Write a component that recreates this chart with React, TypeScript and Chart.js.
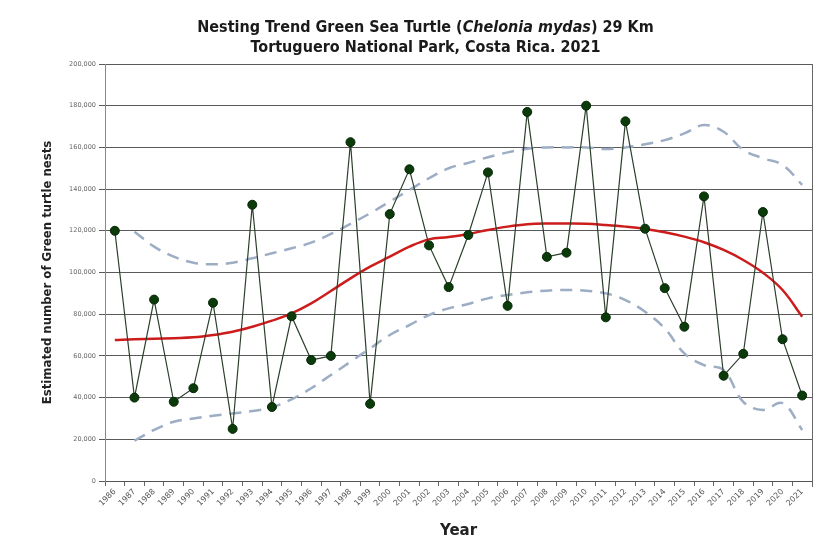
import { useEffect, useRef } from "react";
import { Chart, registerables } from "chart.js";

Chart.register(...registerables);

const years = [
  "1986", "1987", "1988", "1989", "1990", "1991", "1992", "1993", "1994",
  "1995", "1996", "1997", "1998", "1999", "2000", "2001", "2002", "2003",
  "2004", "2005", "2006", "2007", "2008", "2009", "2010", "2011", "2012",
  "2013", "2014", "2015", "2016", "2017", "2018", "2019", "2020", "2021",
];

const nests = [
  120000, 40000, 87000, 38000, 44500, 85500, 25000, 132500, 35500,
  79000, 58000, 60000, 162500, 37000, 128000, 149500, 113000, 93000,
  118000, 148000, 84000, 177000, 107500, 109500, 180000, 78500, 172500,
  121000, 92500, 74000, 136500, 50500, 61000, 129000, 68000, 41000,
];

const trend = [
  67600, 68000, 68200, 68500, 68900, 70000, 71600, 74000, 76900,
  80400, 85200, 91100, 97200, 102800, 107600, 112400, 115900, 117000,
  118500, 120400, 122000, 123100, 123500, 123500, 123400, 122800, 122000,
  120900, 119300, 117200, 114500, 110800, 106000, 99900, 91600, 78800,
];

const upperBand = [
  null, 119600, 112400, 107600, 104700, 103900, 104700, 106800, 109200,
  111600, 114300, 118500, 123300, 128400, 134000, 139600, 145200, 150000,
  152600, 155300, 157600, 159400, 160000, 160000, 160000, 159200, 160000,
  161500, 163500, 166700, 170700, 167500, 158800, 154800, 151600, 142000,
];

const lowerBand = [
  null, 19300, 24500, 28400, 30000, 31300, 32400, 33600, 35300,
  39200, 44500, 50800, 57200, 63600, 70000, 74800, 79600, 82800,
  84900, 87600, 89200, 90500, 91300, 91600, 91300, 90000, 86800,
  81200, 73200, 61200, 55600, 53200, 38000, 34100, 37300, 24500,
];

const yTickValues = [0, 20000, 40000, 60000, 80000, 100000, 120000, 140000, 160000, 180000, 200000];

const frameRight = {
  id: "frameRight",
  afterDatasetsDraw(chart: any) {
    const { ctx, chartArea } = chart;
    ctx.save();
    ctx.strokeStyle = "#666";
    ctx.lineWidth = 1;
    ctx.beginPath();
    ctx.moveTo(chartArea.right + 0.5, chartArea.top);
    ctx.lineTo(chartArea.right + 0.5, chartArea.bottom + 6);
    ctx.stroke();
    ctx.restore();
  },
};

export default function App() {
  const canvasRef = useRef<HTMLCanvasElement | null>(null);

  useEffect(() => {
    if (!canvasRef.current) return;
    const chart = new Chart(canvasRef.current, {
      type: "line",
      data: {
        labels: years,
        datasets: [
          {
            label: "Nests",
            data: nests,
            borderColor: "#2c3f2c",
            borderWidth: 1.2,
            backgroundColor: "#0b3a0b",
            pointBackgroundColor: "#0b3a0b",
            pointBorderColor: "#062806",
            pointBorderWidth: 1,
            pointRadius: 4.5,
            tension: 0,
          },
          {
            label: "Trend",
            data: trend,
            borderColor: "#cc1c1c",
            borderWidth: 2.5,
            pointRadius: 0,
            tension: 0.4,
          },
          {
            label: "Upper",
            data: upperBand,
            borderColor: "#9cadc4",
            borderWidth: 2.5,
            borderDash: [12, 8],
            pointRadius: 0,
            tension: 0.4,
            spanGaps: true,
          },
          {
            label: "Lower",
            data: lowerBand,
            borderColor: "#9cadc4",
            borderWidth: 2.5,
            borderDash: [12, 8],
            pointRadius: 0,
            tension: 0.4,
            spanGaps: true,
          },
        ],
      },
      options: {
        animation: false,
        responsive: true,
        maintainAspectRatio: false,
        layout: { padding: { top: 64, right: 21, bottom: 0, left: 0 } },
        plugins: {
          legend: { display: false },
          tooltip: { enabled: false },
          title: { display: false },
        },
        scales: {
          x: {
            type: "category",
            offset: true,
            afterFit: (s: any) => {
              s.height = 71;
            },
            grid: {
              display: true,
              drawOnChartArea: false,
              offset: true,
              tickLength: 5,
              color: "#666",
            },
            border: { display: true, color: "#555", width: 1 },
            ticks: {
              autoSkip: false,
              minRotation: 45,
              maxRotation: 45,
              padding: 1,
              color: "#555",
              font: { family: "DejaVu Sans", size: 8 },
            },
            title: {
              display: true,
              text: "Year",
              color: "#222",
              font: { family: "DejaVu Sans", size: 15, weight: "bold" },
              padding: { top: 0, bottom: 12 },
            },
          },
          y: {
            min: 0,
            max: 200000,
            afterFit: (s: any) => {
              s.width = 105;
            },
            afterBuildTicks: (s: any) => {
              s.ticks = yTickValues.map((v) => ({ value: v }));
            },
            grid: {
              color: "#5a5a5a",
              lineWidth: 1,
              tickLength: 6,
            },
            border: { display: true, color: "#888", width: 1 },
            ticks: {
              padding: 3,
              color: "#666",
              font: { family: "DejaVu Sans", size: 6.5 },
              callback: (v: any) => Number(v).toLocaleString("en-US"),
            },
            title: {
              display: true,
              text: "Estimated number of Green turtle nests",
              color: "#222",
              font: { family: "DejaVu Sans Condensed", size: 13, weight: "bold" },
              padding: { top: 40, bottom: 0 },
            },
          },
        },
      },
      plugins: [frameRight],
    });
    return () => chart.destroy();
  }, []);

  return (
    <div
      style={{
        position: "absolute",
        left: 0,
        top: 0,
        width: 833,
        height: 552,
        background: "#fff",
      }}
    >
      <div
        style={{
          position: "absolute",
          left: 0,
          top: 17,
          width: 851,
          textAlign: "center",
          fontFamily: "'DejaVu Sans Condensed', 'DejaVu Sans', sans-serif",
          fontWeight: "bold",
          fontSize: 16,
          lineHeight: "20px",
          color: "#1a1a1a",
        }}
      >
        <div>
          Nesting Trend Green Sea Turtle (<i>Chelonia mydas</i>) 29 Km
        </div>
        <div>Tortuguero National Park, Costa Rica. 2021</div>
      </div>
      <canvas ref={canvasRef} />
    </div>
  );
}
